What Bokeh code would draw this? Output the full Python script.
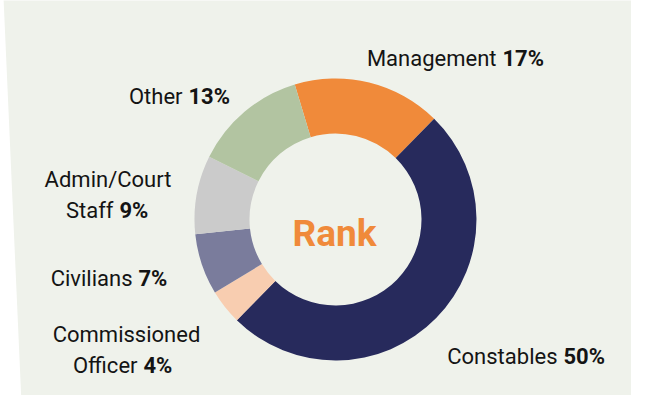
import math
from bokeh.plotting import figure
from bokeh.models import Range1d, ColumnDataSource
from bokeh.core.properties import value
from bokeh.embed import file_html
from bokeh.resources import INLINE

# ---- data ----
categories = ["Management", "Constables", "Commissioned Officer", "Civilians", "Admin/Court Staff", "Other"]
shares = [17, 50, 4, 7, 9, 13]
colors = ["#F08A3A", "#272A5C", "#F8CDB0", "#7A7C9C", "#CBCBCB", "#B2C4A1"]
center_title = "Rank"

# label texts: last line is followed by the bold percent
label_lines = [["Management"], ["Constables"], ["Commissioned", "Officer"],
               ["Civilians"], ["Admin/Court", "Staff"], ["Other"]]

# ---- layout (picture pixel coords) ----
W, H = 631, 395
FONT = value("Roboto")
FS = "22px"
TXT = "#141414"
BG = "#EFF2EB"
CX, CY = 335, 227
R_OUT, R_IN = 141, 86
ROT = math.radians(16.8)
# junction between name and percent, and baseline of the last line
anchors = [(496, 66), (557, 364), (137, 373), (132, 286), (113, 218), (182, 104)]
first_line_center = {2: (126, 342), 4: (107.5, 187)}
GAP = 6


def py(Y):
    return 411 - Y


p = figure(width=W, height=H, x_range=Range1d(0, W), y_range=Range1d(8, 8 + H),
           output_backend="svg", toolbar_location=None, min_border=0,
           x_axis_type=None, y_axis_type=None)
p.grid.visible = False
p.outline_line_color = None
p.background_fill_color = "white"
p.border_fill_color = "white"

# paper background
p.patch([3, 660, 660, 21], [py(5), py(3), py(404), py(411)], fill_color=BG, line_color=None)

# donut
total = float(sum(shares))
starts, ends = [], []
cum = 0.0
for s in shares:
    starts.append(math.pi / 2 + ROT - cum / total * 2 * math.pi)
    cum += s
    ends.append(math.pi / 2 + ROT - cum / total * 2 * math.pi)
src = ColumnDataSource(dict(cat=categories, share=shares, color=colors, start=starts, end=ends))
p.annular_wedge(x=CX, y=py(CY), inner_radius=R_IN, outer_radius=R_OUT,
                start_angle="start", end_angle="end", direction="clock",
                fill_color="color", line_color=None, source=src)

# center title
p.text(x=[CX - 1], y=[py(241)], text=[center_title], text_font=FONT, text_font_style="bold",
       text_font_size="37px", text_color="#F08A3A", text_align="center", text_baseline="alphabetic")

# labels
nx, ny, nt = [], [], []
cx_, cy_, ct = [], [], []
px_, py_, pt = [], [], []
for i, lines in enumerate(label_lines):
    ax, ay = anchors[i]
    nx.append(ax); ny.append(py(ay)); nt.append(lines[-1])
    px_.append(ax + GAP); py_.append(py(ay)); pt.append(f"{shares[i]}%")
    if len(lines) > 1:
        fx, fy = first_line_center[i]
        cx_.append(fx); cy_.append(py(fy)); ct.append(lines[0])

p.text(x=nx, y=ny, text=nt, text_font=FONT, text_font_size=FS, text_color=TXT,
       text_align="right", text_baseline="alphabetic")
p.text(x=px_, y=py_, text=pt, text_font=FONT, text_font_style="bold", text_font_size=FS,
       text_color=TXT, text_align="left", text_baseline="alphabetic")
p.text(x=cx_, y=cy_, text=ct, text_font=FONT, text_font_size=FS, text_color=TXT,
       text_align="center", text_baseline="alphabetic")

open("out.html", "w").write(file_html(p, INLINE))
